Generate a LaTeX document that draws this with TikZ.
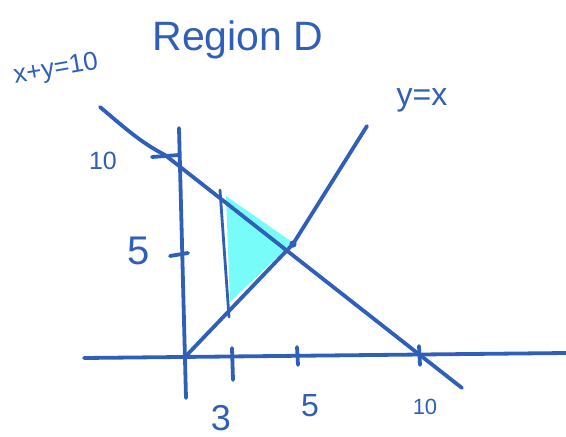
\documentclass[tikz,border=0pt]{standalone}
\usepackage{fontspec}
\setmainfont{Liberation Sans}
\definecolor{ink}{RGB}{47,95,184}
\definecolor{hl}{RGB}{120,252,250}
\tikzset{
  stroke/.style={draw=ink,line width=3.8pt,line cap=round,line join=round},
  thin stroke/.style={draw=ink,line width=2.8pt,line cap=round},
  lbl/.style={text=ink,inner sep=0pt,font=\fontsize{26}{28}\selectfont},
}
\begin{document}
\begin{tikzpicture}[x=1pt,y=-1pt]
\useasboundingbox (0,0) rectangle (566,437);
% key points
\coordinate (xl) at (84,358);
\coordinate (xr) at (566,353);
\coordinate (yt) at (179,128);
\coordinate (yb) at (186,398);
\coordinate (O) at (185,357);
\coordinate (dA) at (100,107);
\coordinate (dB) at (462,388);
\coordinate (yxE) at (367,126);
\coordinate (P) at (293,244);
\coordinate (vT) at (220,190);
\coordinate (vB) at (229,317);
% shaded region
\fill[hl] (226,196) -- (292,242) -- (272,262) -- (230,302) -- cycle;
% axes
\draw[stroke] (xl) -- (xr);
\draw[stroke] (yt) -- (yb);
% lines
\draw[stroke] (dA) .. controls (125,128) and (140,142) .. (165,155) -- (dB);
\draw[stroke] (O) -- (P) -- (yxE);
\draw[thin stroke] (vT) -- (vB);
\fill[ink] (P) circle (3.6pt);
% ticks
\draw[stroke] (152,157) -- (179,155);
\draw[stroke] (170,256) -- (188,253);
\draw[stroke] (232,348) -- (233,380);
\draw[stroke] (297,347) -- (298,365);
\draw[stroke] (419,346) -- (420,365);
% labels
\node[lbl,font=\fontsize{41}{43}\selectfont] (title) at (238,40) {Region D};
\node[lbl,rotate=10,font=\fontsize{26}{28}\selectfont] (l1) at (56,70) {x+y=10};
\node[lbl,font=\fontsize{32}{34}\selectfont] (l2) at (422,100) {y=x};
\node[lbl,font=\fontsize{25}{27}\selectfont] (t10y) at (103,161) {10};
\node[lbl,font=\fontsize{40}{42}\selectfont] (t5y) at (139,251) {5};
\node[lbl,font=\fontsize{36}{38}\selectfont] (t3) at (221,418) {3};
\node[lbl,font=\fontsize{32}{34}\selectfont] (t5x) at (310,406) {5};
\node[lbl,font=\fontsize{22}{24}\selectfont] (t10x) at (425,407) {10};
\end{tikzpicture}
\end{document}
